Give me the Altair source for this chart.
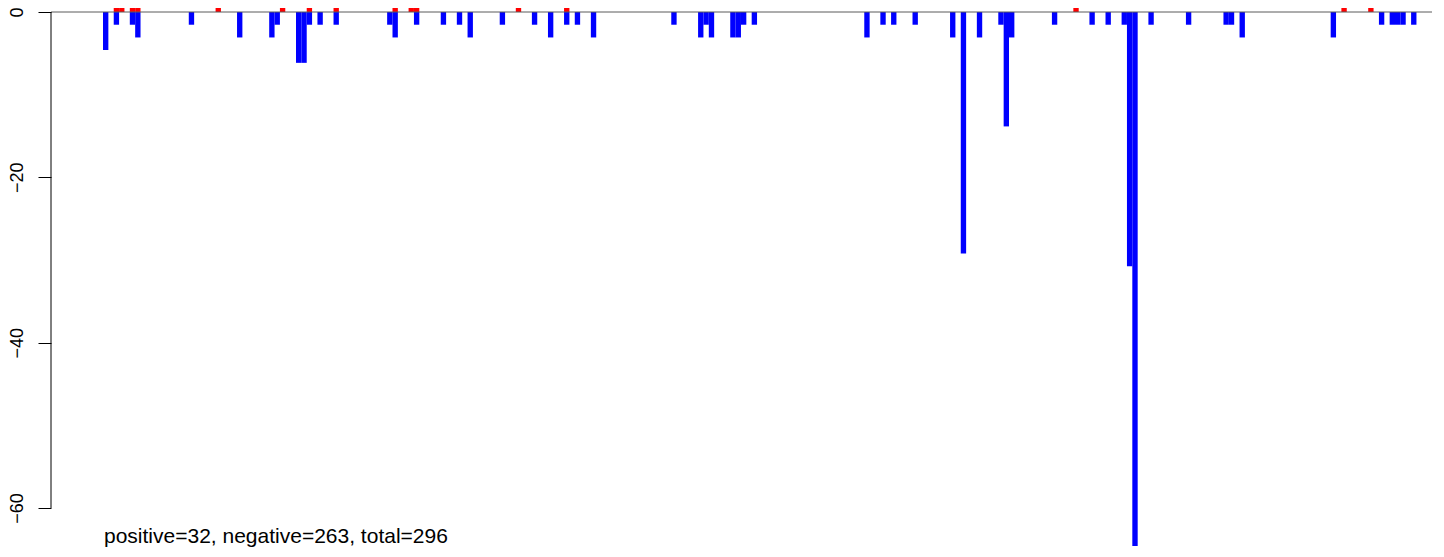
import altair as alt
import pandas as pd

# bin index (position along x) and value of each negative (blue) bar
neg_bins = [0, 2, 5, 6, 16, 25, 31, 32, 36, 37, 38, 40, 43, 53, 54, 58, 63, 66, 68, 74,
            80, 83, 86, 88, 91, 106, 111, 112, 113, 117, 118, 119, 121, 142, 145, 147,
            151, 158, 160, 163, 167, 168, 169, 177, 184, 187, 190, 191, 192, 195, 202,
            209, 210, 212, 229, 238, 240, 241, 242, 244]
neg_values = [-4.61, -1.54, -1.54, -3.08, -1.54, -3.08, -3.08, -1.54, -6.15, -6.15, -1.54,
              -1.54, -1.54, -1.54, -3.08, -1.54, -1.54, -1.54, -3.08, -1.54,
              -1.54, -3.08, -1.54, -1.54, -3.08, -1.54, -3.08, -1.54, -3.08, -3.08, -3.08,
              -1.54, -1.54, -3.08, -1.54, -1.54,
              -1.54, -3.08, -29.22, -3.08, -1.54, -13.84, -3.08, -1.54, -1.54, -1.54, -1.54,
              -30.76, -64.6, -1.54, -1.54,
              -1.54, -1.54, -3.08, -3.08, -1.54, -1.54, -1.54, -1.54, -1.54]

# positive (red) bars
pos_bins = [2, 3, 5, 6, 21, 33, 38, 43, 54, 57, 58, 77, 86, 181, 231, 236]
pos_values = [3.08, 3.08, 3.08, 3.08, 3.08, 3.08, 3.08, 3.08, 3.08, 3.08, 3.08, 3.08,
              3.08, 3.08, 3.08, 3.08]

y_ticks = [0, -20, -40, -60]
note = "positive=32, negative=263, total=296"

neg = pd.DataFrame({"bin": neg_bins, "value": neg_values, "sign": "negative"})
pos = pd.DataFrame({"bin": pos_bins, "value": pos_values, "sign": "positive"})
df = pd.concat([pos, neg], ignore_index=True)

W, H = 1381, 540
FONT = "Liberation Sans"

xscale = alt.Scale(domain=[-9.7, 247.9], nice=False, zero=False)
yscale = alt.Scale(domain=[-64.84, 0.484], nice=False, zero=False)

bars = alt.Chart(df).transform_calculate(
    bin_end="datum.bin + 1"
).mark_rect(clip=True).encode(
    x=alt.X("bin:Q", scale=xscale, axis=None),
    x2="bin_end:Q",
    y=alt.Y("value:Q", scale=yscale,
            axis=alt.Axis(values=y_ticks, domain=False, grid=False, tickSize=13,
                          tickColor="black", tickWidth=1, labelAngle=270,
                          labelAlign="center", labelBaseline="alphabetic",
                          labelPadding=16, labelFontSize=18, labelFont=FONT,
                          labelColor="black", title=None, format="d")),
    y2=alt.datum(0),
    color=alt.Color("sign:N",
                    scale=alt.Scale(domain=["positive", "negative"],
                                    range=["#ff0000", "#0000ff"]),
                    legend=None),
)

zero_line = alt.Chart(pd.DataFrame({"y": [0]})).mark_rule(
    color="#5a5a5a", strokeWidth=1
).encode(y=alt.Y("y:Q", scale=yscale))

axis_line = alt.Chart(pd.DataFrame({"top": [y_ticks[0]], "bottom": [y_ticks[-1]]})).mark_rule(
    color="black", strokeWidth=1
).encode(
    x=alt.value(0),
    y=alt.Y("top:Q", scale=yscale),
    y2="bottom:Q",
)

label = alt.Chart(pd.DataFrame({"note": [note], "x": [0]})).mark_text(
    align="left", baseline="alphabetic", fontSize=21, font=FONT, color="black", dx=1
).encode(
    x=alt.X("x:Q", scale=xscale),
    y=alt.value(535),
    text="note:N",
)

chart = alt.layer(bars, zero_line, axis_line, label).properties(
    width=W,
    height=H,
    padding={"left": 43, "top": 0, "right": 0, "bottom": 1},
    autosize=alt.AutoSizeParams(type="none"),
).configure_view(stroke=None)

chart.save("out.html", embed_options={"renderer": "svg", "actions": False})
